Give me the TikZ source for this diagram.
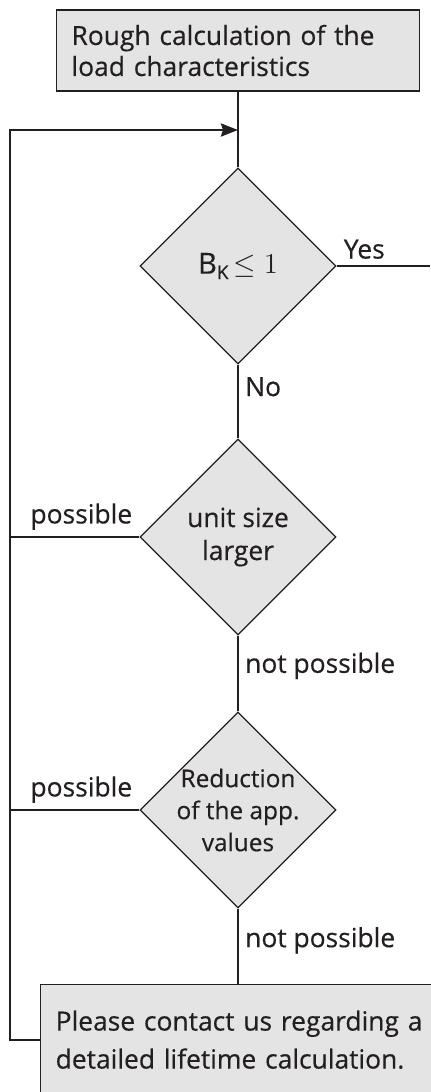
\documentclass[tikz,border=0pt]{standalone}
\usepackage{fontspec}
\setmainfont{Open Sans}[FakeBold=0.4]
\usetikzlibrary{shapes.geometric,arrows.meta}
\definecolor{ink}{HTML}{231F20}
\definecolor{boxgray}{HTML}{E4E4E4}
\begin{document}
\begin{tikzpicture}[x=0.5pt,y=-0.5pt,color=ink,line width=1.2pt,
    box/.style={draw=ink,fill=boxgray,line width=0.7pt,rectangle,align=left,inner xsep=7.5pt},
    test/.style={draw=ink,fill=boxgray,line width=0.65pt,diamond,minimum size=98pt,inner sep=-4pt,align=center,font=\fontsize{13.2}{16.5}\selectfont},
    lbl/.style={font=\fontsize{13.2}{15}\selectfont,inner sep=3pt}]
    \def\xc{238}
    \useasboundingbox (0,0) rectangle (430,1092);
    \node[box,minimum width=181.5pt,minimum height=40.5pt,text width=166.5pt,font=\fontsize{13.2}{15.5}\selectfont] (rough) at (\xc,50.5) {Rough calculation of the\\load characteristics};
    \node[test,font=\fontsize{14.5}{18}\selectfont] (limit) at (\xc,266) {B\raisebox{-0.35ex}{\fontsize{9.5}{10}\selectfont K}\,{\fontsize{14}{16}\selectfont$\leq 1$}};
    \node[test] (size) at (\xc,537) {unit size\\larger};
    \node[test,font=\fontsize{12.2}{16}\selectfont] (reduce) at (\xc,810) {Reduction\\of the app.\\values};
    \node[box,anchor=north west,minimum width=210pt,minimum height=55pt,text width=195pt,font=\fontsize{13.2}{19}\selectfont] (contact) at (40,984) {Please contact us regarding a\\detailed lifetime calculation.};
    \coordinate (left) at (10,130);
    \coordinate (join) at (\xc,130);
    \coordinate (yes) at (430,266);
    \draw (rough) -- (limit);
    \draw (limit.east) -- node[lbl,above right,pos=0]{Yes} (yes);
    \draw (limit) -- node[lbl,right,pos=0.3]{No} (size);
    \draw (size) -- node[lbl,right,pos=0.4]{not possible} (reduce);
    \draw (reduce) -- node[lbl,right,pos=0.42]{not possible} (reduce |- contact.north);
    \draw (size.west) -- node[lbl,above left,pos=0]{possible} (size.west -| left);
    \draw (reduce.west) -- node[lbl,above left,pos=0]{possible} (reduce.west -| left);
    \draw[-{Stealth[length=8.5pt,width=6.5pt,inset=1pt]}] (contact.west) -| (left) -- (join);
\end{tikzpicture}
\end{document}
